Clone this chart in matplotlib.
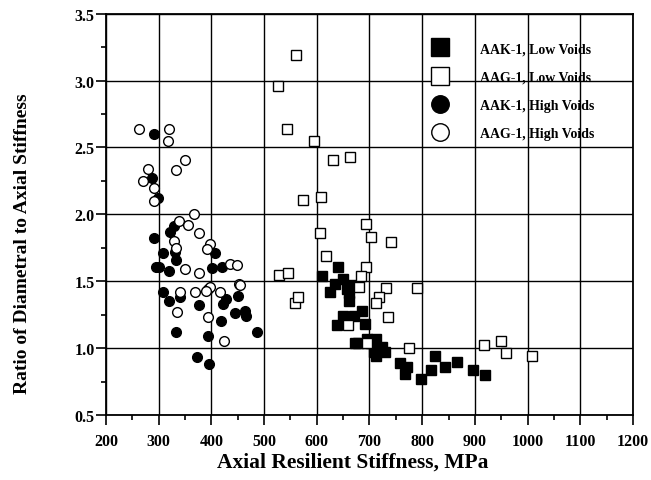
import numpy as np
import matplotlib
matplotlib.use('Agg')
from matplotlib import pyplot as plt
from matplotlib.ticker import MultipleLocator, FormatStrFormatter

# AAK-1, Low Voids (filled squares)
aak_low_x = [609, 641, 635, 625, 650, 657, 665, 661, 662, 639, 649, 670, 686, 692,
             678, 672, 696, 702, 712, 708, 712, 718, 724, 730, 757, 767, 772, 798,
             817, 824, 844, 867, 897, 920]
aak_low_y = [1.54, 1.61, 1.48, 1.42, 1.52, 1.44, 1.47, 1.41, 1.35, 1.17, 1.24, 1.24,
             1.28, 1.18, 1.04, 1.04, 1.07, 1.04, 1.07, 0.97, 0.94, 0.99, 1.01, 0.97,
             0.89, 0.81, 0.86, 0.77, 0.84, 0.94, 0.86, 0.90, 0.84, 0.80]

# AAG-1, Low Voids (open squares)
aag_low_x = [561, 526, 543, 595, 631, 663, 574, 608, 607, 617, 694, 702, 741, 694,
             684, 528, 546, 558, 565, 680, 731, 718, 712, 735, 659, 695, 775, 791,
             917, 950, 960, 1009]
aag_low_y = [3.19, 2.96, 2.64, 2.55, 2.41, 2.43, 2.11, 2.13, 1.86, 1.69, 1.93, 1.83,
             1.79, 1.61, 1.54, 1.55, 1.56, 1.34, 1.38, 1.46, 1.45, 1.38, 1.34, 1.23,
             1.17, 1.04, 1.00, 1.45, 1.02, 1.05, 0.96, 0.94]

# AAK-1, High Voids (filled circles)
aak_high_x = [291, 288, 298, 291, 322, 330, 331, 333, 294, 301, 308, 319, 407, 402,
              420, 309, 320, 341, 376, 393, 427, 422, 450, 444, 464, 465, 418, 487,
              332, 393, 372, 395]
aak_high_y = [2.60, 2.27, 2.12, 1.82, 1.87, 1.91, 1.72, 1.66, 1.61, 1.61, 1.71, 1.58,
              1.71, 1.60, 1.61, 1.42, 1.35, 1.38, 1.32, 1.44, 1.37, 1.33, 1.39, 1.26,
              1.28, 1.24, 1.20, 1.12, 1.12, 1.09, 0.93, 0.88]

# AAG-1, High Voids (open circles)
aag_high_x = [263, 320, 317, 279, 271, 292, 291, 350, 332, 367, 338, 356, 330, 376,
              332, 397, 391, 436, 448, 350, 376, 452, 455, 397, 369, 340, 389, 417,
              334, 394, 424]
aag_high_y = [2.64, 2.64, 2.55, 2.34, 2.25, 2.20, 2.10, 2.41, 2.33, 2.00, 1.95, 1.92,
              1.80, 1.86, 1.75, 1.78, 1.74, 1.63, 1.62, 1.59, 1.56, 1.48, 1.47, 1.46,
              1.42, 1.42, 1.43, 1.42, 1.27, 1.23, 1.05]

labels = ['AAK-1, Low Voids', 'AAG-1, Low Voids', 'AAK-1, High Voids', 'AAG-1, High Voids']

plt.rcParams['font.family'] = ['Liberation Serif', 'DejaVu Serif']
plt.rcParams['font.weight'] = 'bold'

fig = plt.figure(figsize=(6.51, 4.81), dpi=100)
ax = fig.add_axes([0.1628, 0.1351, 0.8095, 0.8343])

ms = 7
ax.plot(aak_low_x, aak_low_y, 's', color='black', ms=ms, label=labels[0])
ax.plot(aag_low_x, aag_low_y, 's', mfc='white', mec='black', mew=1.0, ms=ms, label=labels[1])
ax.plot(aak_high_x, aak_high_y, 'o', color='black', ms=ms, label=labels[2])
ax.plot(aag_high_x, aag_high_y, 'o', mfc='white', mec='black', mew=1.0, ms=ms, label=labels[3])

ax.set_xlim(200, 1200)
ax.set_ylim(0.5, 3.5)
ax.xaxis.set_major_locator(MultipleLocator(100))
ax.xaxis.set_minor_locator(MultipleLocator(50))
ax.yaxis.set_major_locator(MultipleLocator(0.5))
ax.yaxis.set_minor_locator(MultipleLocator(0.25))
ax.yaxis.set_major_formatter(FormatStrFormatter('%.1f'))
ax.grid(True, which='major', color='black', lw=1.0)
ax.tick_params(which='both', direction='out', top=False, right=False, labelsize=11.5)
ax.tick_params(axis='x', which='major', length=7, width=1.2, pad=6)
ax.tick_params(axis='y', which='major', length=7, width=1.2, pad=1)
ax.tick_params(which='minor', length=3.5, width=1.2)
for s in ax.spines.values():
    s.set_linewidth(1.3)

ax.set_xlabel('Axial Resilient Stiffness, MPa', fontsize=15.5, fontweight='bold')
ax.set_ylabel('Ratio of Diametral to Axial Stiffness', fontsize=14, fontweight='bold')
ax.xaxis.set_label_coords(0.469, -0.09)
ax.yaxis.set_label_coords(-0.142, 0.43)

leg = ax.legend(loc='upper left', bbox_to_anchor=(0.583, 0.96), frameon=False,
                markerscale=1.8, handletextpad=1.9, labelspacing=1.1,
                prop={'family': 'Liberation Serif', 'weight': 'bold', 'size': 10})

plt.savefig('out.png', dpi=100)
